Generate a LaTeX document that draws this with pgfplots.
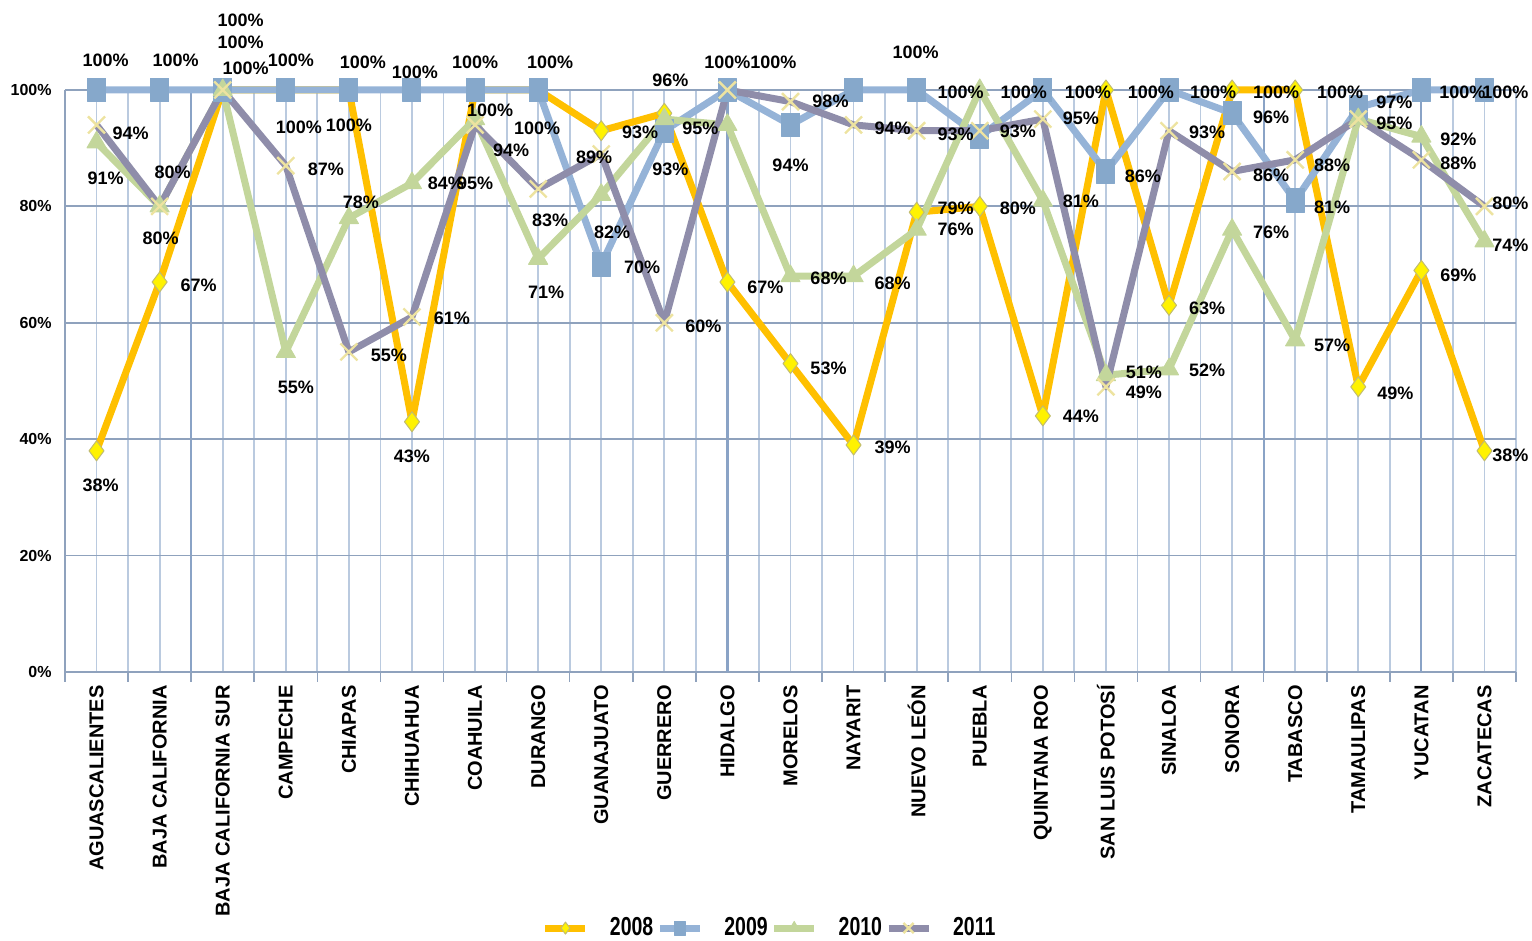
\documentclass[border=0pt]{standalone}
\usepackage{fontspec}
\usepackage{pgfplots}
\usepackage{pgfplotstable}
\pgfplotsset{compat=1.18}
\setmainfont{Liberation Sans}
\newfontfamily\legfont[FakeStretch=0.75]{Liberation Sans}
\definecolor{c08}{HTML}{FFC000}
\definecolor{c09}{HTML}{95B3D7}
\definecolor{c09m}{HTML}{86A8CB}
\definecolor{c10}{HTML}{C3D69B}
\definecolor{c11}{HTML}{8F8DAA}
\definecolor{xc}{HTML}{EDE3A0}
\definecolor{gridv}{HTML}{BACADF}
\definecolor{gridh}{HTML}{8FA2BD}
\definecolor{gridd}{HTML}{8AA3C6}

% x y dx dy s   (dx,dy = label offset in pt, s = label shown)
\pgfplotstableread{
x y dx dy s
0 38 2 -17 1
1 67 19.5 -1.5 1
2 100 9 24 1
3 100 6.5 -18.5 1
4 100 0 -17.5 1
5 43 0 -17.5 1
6 100 7.5 -10 1
7 100 -0.5 -19 1
8 93 19.5 -1 1
9 96 3 16.5 1
10 67 19 -2.5 1
11 53 19 -2.5 1
12 39 19.5 -1 1
13 79 19.5 2 1
14 80 19 -1 1
15 44 19 0 1
16 100 22.5 -1 1
17 63 19 -1.5 1
18 100 22 -1 1
19 100 22.5 -1 1
20 49 18.5 -3 1
21 69 18.5 -2.5 1
22 38 13 -2 1
}\tA
\pgfplotstableread{
x y dx dy s
0 100 4.5 15 1
1 100 8 15 1
2 100 9 35 1
3 100 2.5 15 1
4 100 7 14 1
5 100 1.5 9 1
6 100 0 14 1
7 100 6 14 1
8 70 20.5 -1.5 1
9 93 3 -19.5 1
10 100 0 14 1
11 94 0 -20 1
12 100 31 19 1
13 100 22 -1 1
14 92 0 0 0
15 100 22.5 -1 1
16 86 18.5 -2.5 1
17 100 22 -1 1
18 96 19.5 -2 1
19 81 18.5 -3.5 1
20 97 18 2.5 1
21 100 20.5 -1 1
22 100 10.5 -1 1
}\tB
\pgfplotstableread{
x y dx dy s
0 91 4.5 -18 1
1 80 0.5 -16 1
2 100 11.5 11 1
3 55 5 -17.5 1
4 78 6 8 1
5 84 17 0 1
6 95 0 -32 1
7 71 4 -17 1
8 82 5.5 -19 1
9 95 18 -4.5 1
10 94 0 0 0
11 68 19 -1 1
12 68 19.5 -3.5 1
13 76 19.5 0 1
14 100 22 -1 1
15 81 19 -0.5 1
16 51 19 1.5 1
17 52 19 -0.5 1
18 76 19.5 -1.5 1
19 57 18.5 -2.5 1
20 95 18 -2 1
21 92 18.5 -1.5 1
22 74 13 -2 1
}\tC
\pgfplotstableread{
x y dx dy s
0 94 17 -4 1
1 80 6.5 17 1
2 100 0 0 0
3 87 20 -2 1
4 55 20 -1.5 1
5 61 20 -0.5 1
6 94 18 -12.5 1
7 83 6 -15.5 1
8 89 -3.5 -1.5 1
9 60 19.5 -2 1
10 100 23 14 1
11 98 20 0 1
12 94 19.5 -1.5 1
13 93 19.5 -2 1
14 93 19 -0.5 1
15 95 19 0.5 1
16 49 19 -2.5 1
17 93 19 -1 1
18 86 19.5 -2 1
19 88 18.5 -2.5 1
20 95 0 0 0
21 88 18.5 -1.5 1
22 80 13 1.5 1
}\tD

\pgfplotsset{
  lbl/.style={draw=none, mark=none, forget plot,
    point meta=y,
    visualization depends on={\thisrow{dx}\as\dx},
    visualization depends on={\thisrow{dy}\as\dy},
    visualization depends on={\thisrow{s}\as\sh},
    nodes near coords={\ifdim\sh pt>0.5pt \pgfmathprintnumber{\pgfplotspointmeta}\%\fi},
    nodes near coords style={font=\bfseries\fontsize{9}{10}\selectfont, text=black, anchor=center, inner sep=0pt, xshift=\dx pt, yshift=\dy pt}},
}

\begin{document}
\begin{tikzpicture}
\begin{axis}[
  width=725.5pt, height=291pt, scale only axis,
  xmin=-0.5, xmax=22.5, ymin=0, ymax=100,
  clip=false,
  /pgf/number format/assume math mode=true,
  axis x line*=bottom, axis y line*=left,
  axis line style={gridh, line width=0.8pt},
  xtick={0,...,22},
  minor xtick={-0.5,0.5,...,22.5},
  xticklabels={AGUASCALIENTES, BAJA CALIFORNIA, BAJA CALIFORNIA SUR, CAMPECHE, CHIAPAS, CHIHUAHUA, COAHUILA, DURANGO, GUANAJUATO, GUERRERO, HIDALGO, MORELOS, NAYARIT, NUEVO LEÓN, PUEBLA, QUINTANA ROO, SAN LUIS POTOSÍ, SINALOA, SONORA, TABASCO, TAMAULIPAS, YUCATAN, ZACATECAS},
  xticklabel style={rotate=90, anchor=east, inner sep=0pt, font=\bfseries\fontsize{10}{12}\selectfont},
  ytick={0,20,...,100},
  yticklabel={\pgfmathprintnumber{\tick}\%},
  yticklabel style={inner sep=0pt, font=\bfseries\fontsize{8}{9}\selectfont},
  tick align=outside,
  major tick length=6.5pt,
  minor tick length=5pt,
  every major tick/.append style={draw=none},
  every minor tick/.append style={gridh, line width=0.8pt},
  xmajorgrids, xminorgrids,
  major grid style={gridv, line width=0.9pt},
  minor grid style={gridv, line width=0.9pt},
  extra y ticks={20,40,60,80,100},
  extra y tick labels={},
  extra y tick style={grid=major, major grid style={gridh, line width=0.9pt}},
  extra x ticks={1.5,10,18.5,21},
  extra x tick labels={},
  extra x tick style={grid=major, major grid style={gridd, line width=1.1pt}},
  legend style={at={(0.486,-0.44)}, anchor=center, draw=none, fill=none,
    legend columns=4, font=\legfont\bfseries\fontsize{13}{14}\selectfont,
    nodes={inner xsep=1.5pt},
    /tikz/every odd column/.append style={column sep=9pt},
    /tikz/every even column/.append style={column sep=0pt}},
  legend image code/.code={\draw[mark repeat=2,mark phase=2,#1,every mark/.append style={scale=0.6}] plot coordinates {(0pt,0pt) (10pt,0pt) (20pt,0pt)};},
]
\addplot[c08, line width=3.5pt, line join=round, mark=diamond*, mark size=5pt,
  mark options={solid, fill=yellow, draw=yellow!60!black!70, line width=0.5pt}]
  table[x=x,y=y]{\tA};
\addlegendentry{2008}
\addplot[c09, line width=3.5pt, line join=round, mark=square*, mark size=4.5pt,
  mark options={solid, fill=c09m, draw=c09m, line width=0.5pt, yscale=1.3}]
  table[x=x,y=y]{\tB};
\addlegendentry{2009}
\addplot[c10, line width=3.5pt, line join=round, mark=triangle*, mark size=5.5pt,
  mark options={solid, fill=c10, draw=c10, line width=0.5pt}]
  table[x=x,y=y]{\tC};
\addlegendentry{2010}
\addplot[c11, line width=3.5pt, line join=round, mark=x, mark size=6pt,
  mark options={solid, draw=xc, line width=1.2pt}]
  table[x=x,y=y]{\tD};
\addlegendentry{2011}
\addplot[lbl] table[x=x,y=y]{\tA};
\addplot[lbl] table[x=x,y=y]{\tB};
\addplot[lbl] table[x=x,y=y]{\tC};
\addplot[lbl] table[x=x,y=y]{\tD};
\end{axis}
\pgfresetboundingbox
\path[use as bounding box] (-32.5pt,-134.5pt) rectangle (733.5pt,336pt);
\end{tikzpicture}
\end{document}
